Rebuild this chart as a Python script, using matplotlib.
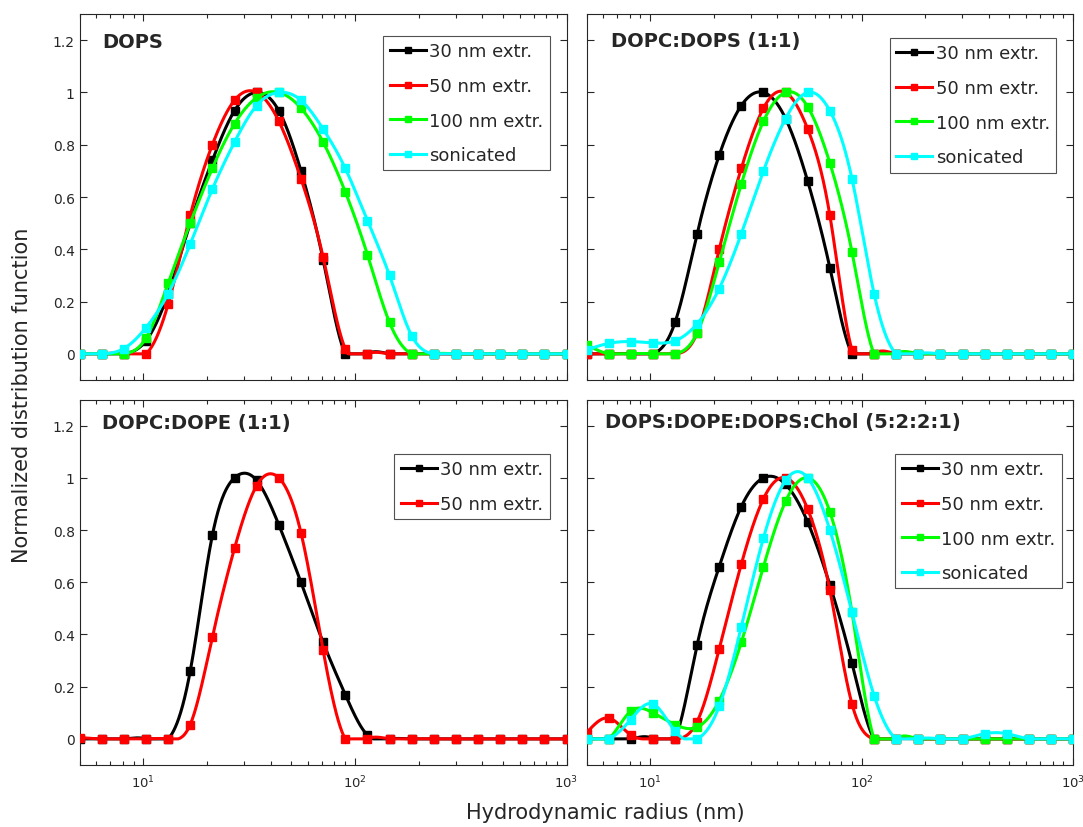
import numpy as np
import matplotlib
matplotlib.use("Agg")
import matplotlib.pyplot as plt
from matplotlib.ticker import LogLocator, NullFormatter, FixedLocator

# Hydrodynamic radius sample points (nm)
radius = [5.0, 6.36, 8.09, 10.30, 13.11, 16.68, 21.22, 27.00, 34.36, 43.72, 55.63,
          70.79, 90.07, 114.6, 145.8, 185.5, 236.0, 300.3, 382.1, 486.2, 618.6,
          787.1, 1000.0]

series_labels = ["30 nm extr.", "50 nm extr.", "100 nm extr.", "sonicated"]
series_colors = ["#000000", "#ff0000", "#00ff00", "#00ffff"]

# Panel 1: DOPS
dops_30 = [0, 0, 0, 0.05, 0.23, 0.50, 0.74, 0.93, 1.00, 0.93, 0.70, 0.36, 0.0,
           0, 0, 0, 0, 0, 0, 0, 0, 0, 0]
dops_50 = [0, 0, 0, 0.0, 0.19, 0.53, 0.80, 0.97, 1.00, 0.89, 0.67, 0.37, 0.02,
           0, 0, 0, 0, 0, 0, 0, 0, 0, 0]
dops_100 = [0, 0, 0, 0.06, 0.27, 0.50, 0.71, 0.88, 0.98, 1.00, 0.94, 0.81, 0.62,
            0.38, 0.12, 0, 0, 0, 0, 0, 0, 0, 0]
dops_son = [0, 0, 0.02, 0.10, 0.23, 0.42, 0.63, 0.81, 0.95, 1.00, 0.97, 0.86, 0.71,
            0.51, 0.30, 0.07, 0, 0, 0, 0, 0, 0, 0]

# Panel 2: DOPC:DOPS (1:1)
pcps_30 = [0, 0, 0, 0, 0.12, 0.46, 0.76, 0.95, 1.00, 0.90, 0.66, 0.33, 0.0,
           0, 0, 0, 0, 0, 0, 0, 0, 0, 0]
pcps_50 = [0, 0, 0, 0, 0, 0.08, 0.40, 0.71, 0.94, 1.00, 0.86, 0.53, 0.015,
           0, 0, 0, 0, 0, 0, 0, 0, 0, 0]
pcps_100 = [0.035, 0, 0, 0, 0, 0.08, 0.35, 0.65, 0.89, 1.00, 0.945, 0.73, 0.39,
            0, 0, 0, 0, 0, 0, 0, 0, 0, 0]
pcps_son = [0.015, 0.04, 0.047, 0.042, 0.05, 0.115, 0.25, 0.46, 0.70, 0.90, 1.00,
            0.93, 0.67, 0.23, 0, 0, 0, 0, 0, 0, 0, 0, 0]

# Panel 3: DOPC:DOPE (1:1)
pcpe_30 = [0, 0, 0, 0, 0, 0.26, 0.78, 1.00, 0.99, 0.82, 0.60, 0.37, 0.17, 0.015,
           0, 0, 0, 0, 0, 0, 0, 0, 0]
pcpe_50 = [0.005, 0, 0, 0, 0, 0.055, 0.39, 0.73, 0.97, 1.00, 0.79, 0.34, 0.0,
           0, 0, 0, 0, 0, 0, 0, 0, 0, 0]

# Panel 4: DOPS:DOPE:DOPS:Chol (5:2:2:1)
mix_30 = [0, 0, 0, 0, 0, 0.36, 0.66, 0.89, 1.00, 0.975, 0.83, 0.59, 0.29, 0,
          0, 0, 0, 0, 0, 0, 0, 0, 0]
mix_50 = [0.023, 0.08, 0.015, 0, 0, 0.066, 0.345, 0.67, 0.92, 1.00, 0.88, 0.57,
          0.134, 0, 0, 0, 0, 0, 0, 0, 0, 0, 0]
mix_100 = [0, 0, 0.106, 0.10, 0.055, 0.045, 0.147, 0.37, 0.66, 0.91, 1.00, 0.87,
           0.485, 0, 0, 0, 0, 0, 0, 0, 0, 0, 0]
mix_son = [0, 0, 0.074, 0.134, 0.03, 0, 0.125, 0.43, 0.77, 0.99, 1.00, 0.80, 0.485,
           0.166, 0, 0, 0, 0, 0.02, 0.02, 0, 0, 0]

panels = [
    ("DOPS", [dops_30, dops_50, dops_100, dops_son]),
    ("DOPC:DOPS (1:1)", [pcps_30, pcps_50, pcps_100, pcps_son]),
    ("DOPC:DOPE (1:1)", [pcpe_30, pcpe_50]),
    ("DOPS:DOPE:DOPS:Chol (5:2:2:1)", [mix_30, mix_50, mix_100, mix_son]),
]

yticks = [0, 0.2, 0.4, 0.6, 0.8, 1.0, 1.2]
ytick_labels = ["0", "0.2", "0.4", "0.6", "0.8", "1", "1.2"]


def natural_spline(x, y, xn):
    x = np.asarray(x, float)
    y = np.asarray(y, float)
    n = len(x)
    h = np.diff(x)
    A = np.zeros((n, n))
    b = np.zeros(n)
    A[0, 0] = 1
    A[-1, -1] = 1
    for i in range(1, n - 1):
        A[i, i - 1] = h[i - 1]
        A[i, i] = 2 * (h[i - 1] + h[i])
        A[i, i + 1] = h[i]
        b[i] = 3 * ((y[i + 1] - y[i]) / h[i] - (y[i] - y[i - 1]) / h[i - 1])
    c = np.linalg.solve(A, b)
    idx = np.clip(np.searchsorted(x, xn) - 1, 0, n - 2)
    bb = (y[1:] - y[:-1]) / h - h * (2 * c[:-1] + c[1:]) / 3
    d = (c[1:] - c[:-1]) / (3 * h)
    t = xn - x[idx]
    return y[idx] + bb[idx] * t + c[idx] * t ** 2 + d[idx] * t ** 3


fig = plt.figure(figsize=(10.83, 8.28), dpi=100)
W, H = 1083.0, 828.0
boxes = [
    (79.5, 15, 566.5, 381),
    (586.5, 15, 1073, 381),
    (79.5, 400.5, 566.5, 766),
    (586.5, 400.5, 1073, 766),
]
title_pos = [(0.046, 0.926), (0.050, 0.928), (0.046, 0.938), (0.038, 0.940)]
legend_anchor = [(0.966, 0.940), (0.966, 0.934), (0.966, 0.851), (0.977, 0.851)]

axis_col = "#262626"
lx = np.log10(radius)
xf = np.linspace(lx[0], lx[-1], 1200)

for k, (title, data) in enumerate(panels):
    x0, y0, x1, y1 = boxes[k]
    ax = fig.add_axes([x0 / W, 1 - y1 / H, (x1 - x0) / W, (y1 - y0) / H])
    for j, vals in enumerate(data):
        yf = np.clip(natural_spline(lx, vals, xf), 0, None)
        ax.plot(10 ** xf, yf, color=series_colors[j], lw=2.2, zorder=2 + j)
        ax.plot(radius, vals, ls="none", marker="s", ms=5.5,
                color=series_colors[j], zorder=2 + j)
        ax.plot([], [], color=series_colors[j], lw=2.2, marker="s", ms=4.5,
                label=series_labels[j])
    ax.set_xscale("log")
    ax.set_xlim(5, 1000)
    ax.set_ylim(-0.1, 1.3)
    ax.yaxis.set_major_locator(FixedLocator(yticks))
    ax.xaxis.set_major_locator(LogLocator(base=10, numticks=10))
    ax.xaxis.set_minor_locator(LogLocator(base=10, subs=np.arange(2, 10), numticks=20))
    ax.xaxis.set_minor_formatter(NullFormatter())
    ax.tick_params(which="both", direction="in", top=True, right=True,
                   colors=axis_col, labelsize=9.5, width=0.8)
    ax.tick_params(which="major", length=5)
    ax.tick_params(which="minor", length=3)
    ax.tick_params(axis="x", pad=6)
    if k % 2 == 0:
        ax.set_yticklabels(ytick_labels)
        ax.tick_params(axis="y", labelsize=10)
    else:
        ax.set_yticklabels([])
    if k < 2:
        ax.set_xticklabels([])
    for s in ax.spines.values():
        s.set_color(axis_col)
        s.set_linewidth(0.8)
    ax.text(title_pos[k][0], title_pos[k][1], title, transform=ax.transAxes,
            fontsize=14, fontweight="bold", color=axis_col, va="center", ha="left")
    leg = ax.legend(loc="upper right", bbox_to_anchor=legend_anchor[k],
                    fontsize=13, frameon=True, fancybox=False, handlelength=2.0,
                    handletextpad=0.2, borderpad=0.35, labelspacing=0.92,
                    borderaxespad=0)
    leg.get_frame().set_edgecolor(axis_col)
    leg.get_frame().set_linewidth(0.8)
    for t in leg.get_texts():
        t.set_color(axis_col)

fig.text(22 / W, 1 - 395 / H, "Normalized distribution function", rotation=90,
         fontsize=15, color=axis_col, ha="center", va="center")
fig.text(605 / W, 1 - 813 / H, "Hydrodynamic radius (nm)", fontsize=15,
         color=axis_col, ha="center", va="center")

fig.savefig("out.png", dpi=100)
